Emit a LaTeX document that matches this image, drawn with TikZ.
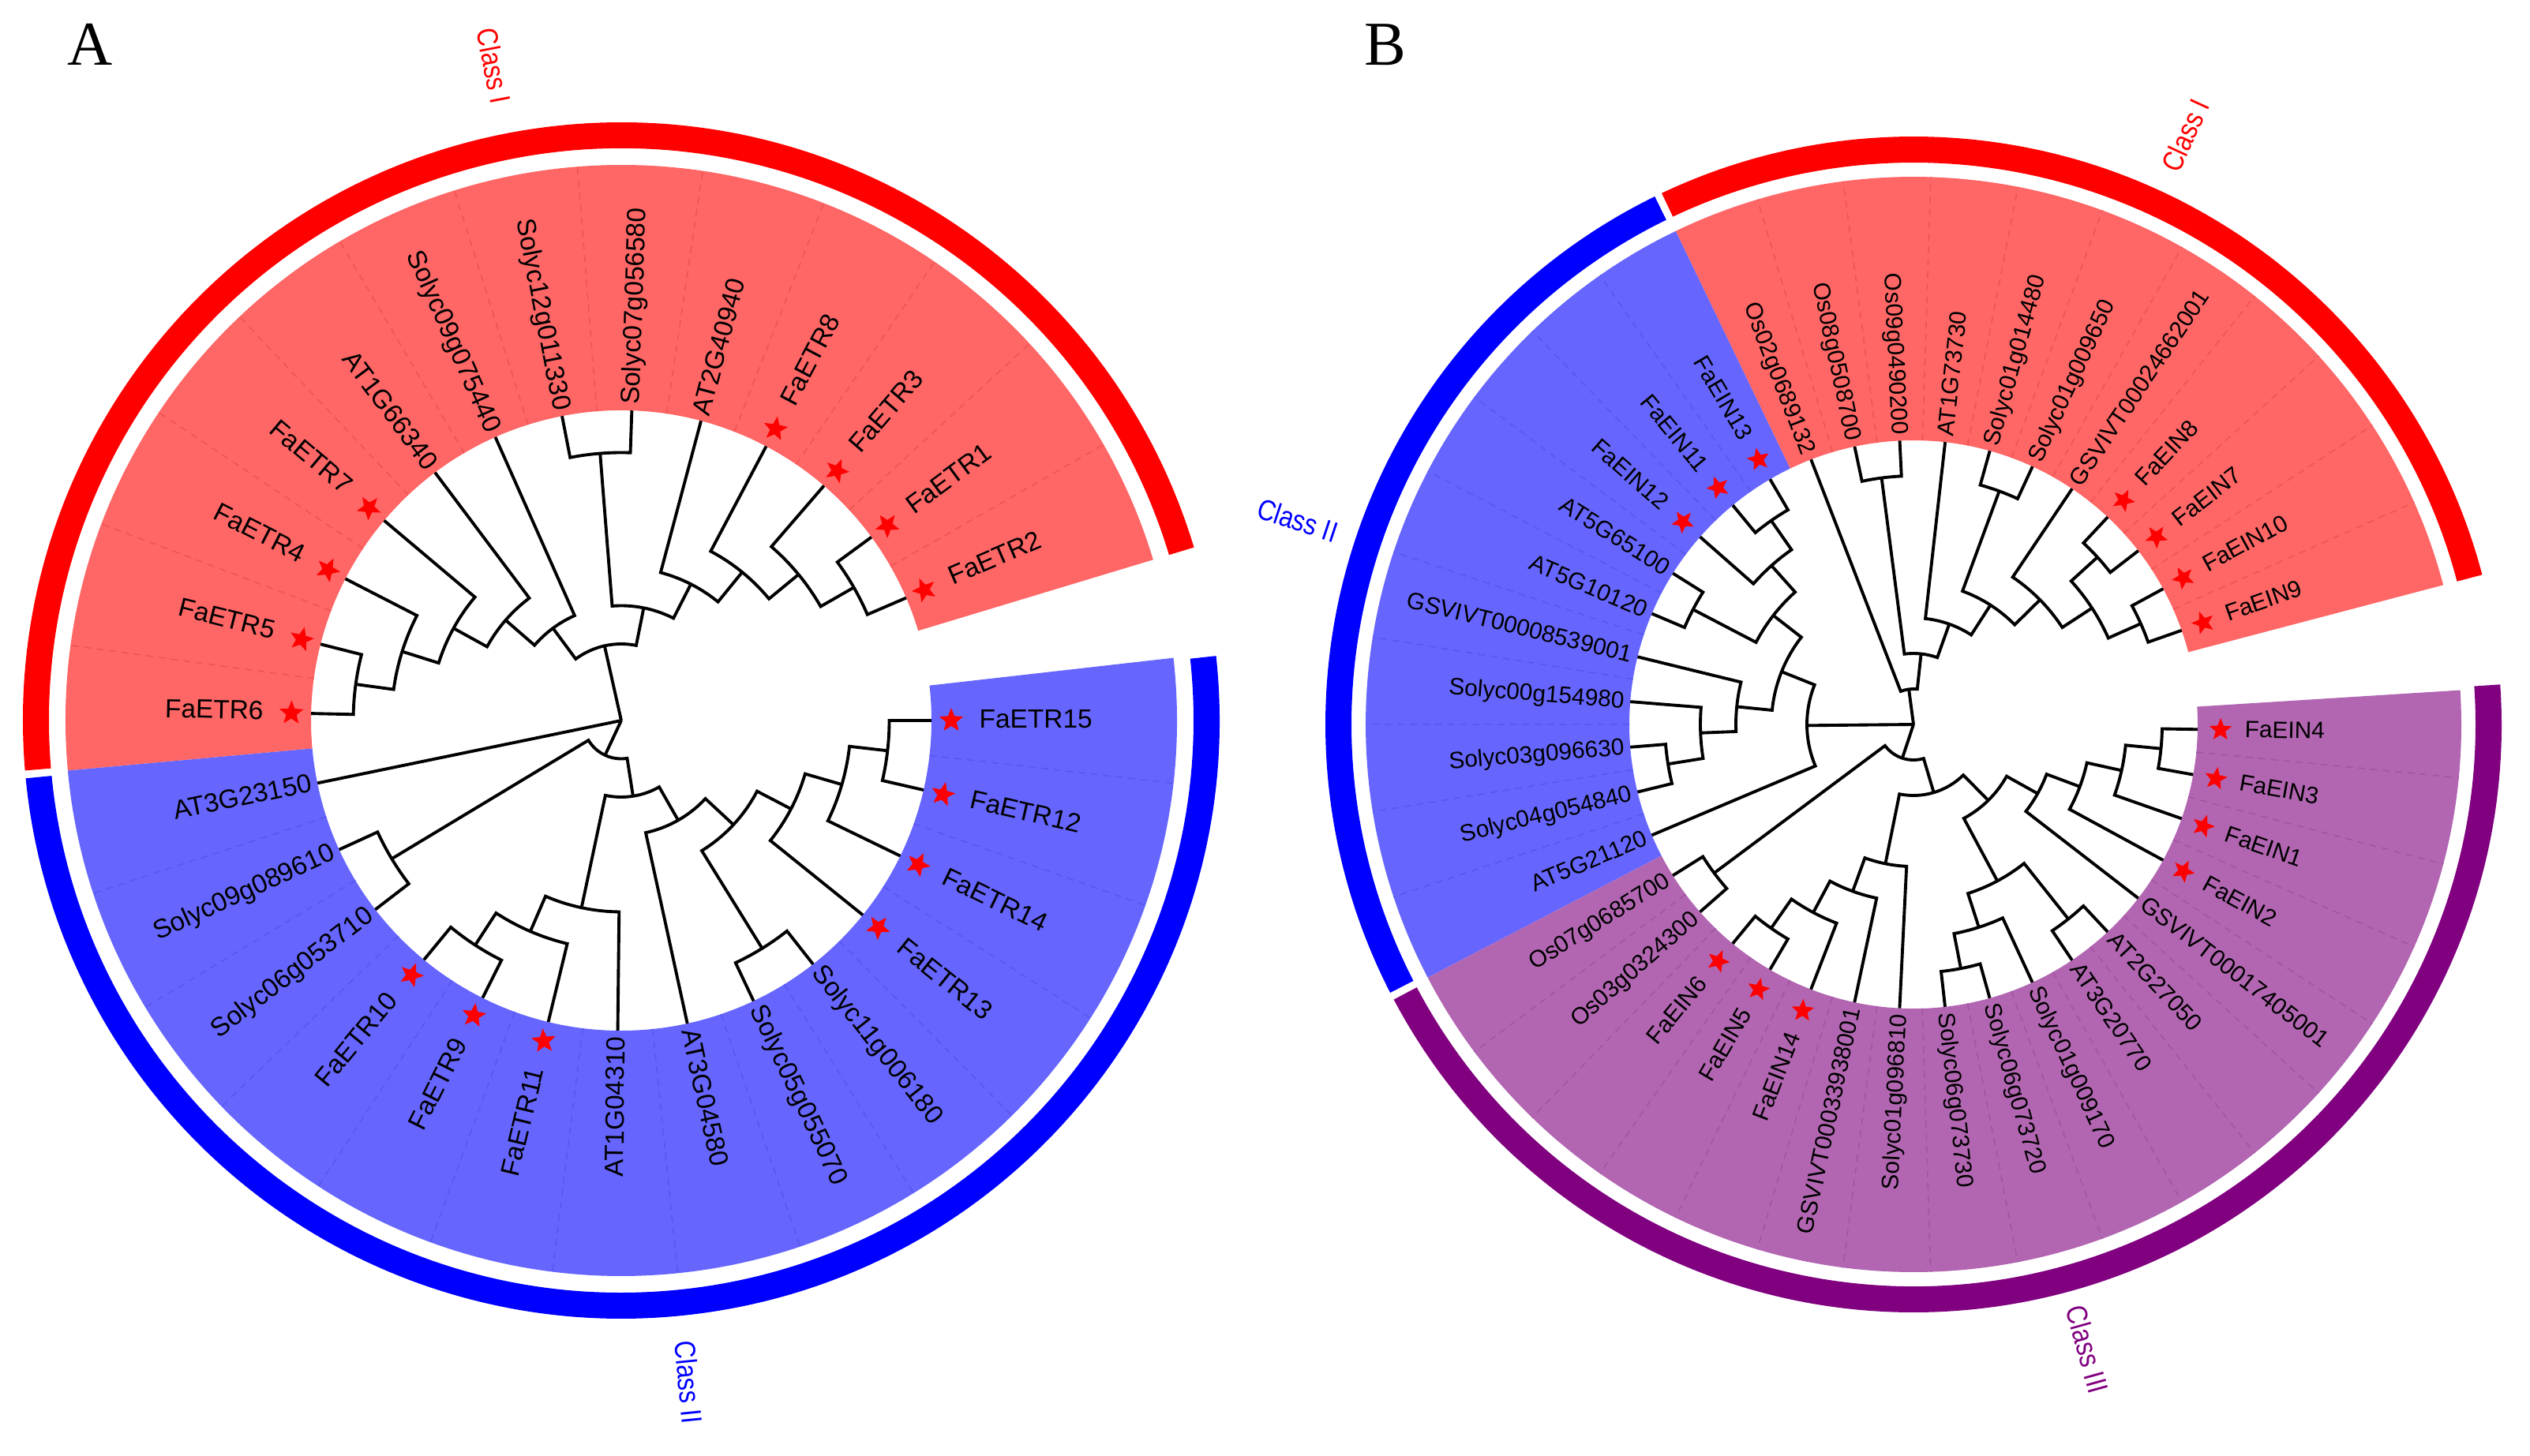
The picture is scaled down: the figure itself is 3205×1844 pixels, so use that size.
\documentclass[tikz,border=0pt]{standalone}
\usepackage{fontspec}
\setmainfont{Liberation Sans}
\newfontfamily\panelfont{Liberation Serif}
\usetikzlibrary{shapes.geometric}
\definecolor{bandred}{RGB}{255,102,102}
\definecolor{bandblue}{RGB}{102,102,255}
\definecolor{bandpurple}{RGB}{178,102,178}
\definecolor{ringred}{RGB}{255,0,0}
\definecolor{ringblue}{RGB}{0,0,255}
\definecolor{ringpurple}{RGB}{128,0,128}
\definecolor{sepred}{RGB}{240,84,84}
\definecolor{sepblue}{RGB}{88,88,240}
\definecolor{seppurple}{RGB}{162,84,162}
\tikzset{
  branch/.style={line width=1.1pt, black, line join=miter},
  lab/.style={inner sep=0pt, text height=0.72em, text depth=0.2em, font=\labfont},
  starsym/.style={star, star points=5, star point ratio=2.3, fill=red, draw=none, inner sep=0pt, minimum size=\starsize},
  sepline/.style={line width=0.45pt, dash pattern=on 2.5pt off 2pt},
  cls/.style={inner sep=0pt, font=\fontsize{10.5}{12}\selectfont},
}
% node of the tree: child1 index, child1 level, child2 index, child2 level, node level
\newcommand\brnode[5]{%
  \pgfmathsetmacro\myangA{\azero-\sstep*(#1)}%
  \pgfmathsetmacro\myangB{\azero-\sstep*(#3)}%
  \pgfmathsetmacro\myrA{(#2)>7.5 ? \rtip : (#2)*\lstep}%
  \pgfmathsetmacro\myrB{(#4)>7.5 ? \rtip : (#4)*\lstep}%
  \pgfmathsetmacro\myrN{(#5)*\lstep}%
  \draw[branch] (\myangA:\myrA) -- (\myangA:\myrN) arc[start angle=\myangA, end angle=\myangB, radius=\myrN*0.01cm] -- (\myangB:\myrB);%
}
\newcommand\brroot[2]{%
  \pgfmathsetmacro\myangA{\azero-\sstep*(#1)}%
  \pgfmathsetmacro\myrA{(#2)>7.5 ? \rtip : (#2)*\lstep}%
  \draw[branch] (0,0) -- (\myangA:\myrA);%
}
\newcommand\band[5]{%
  \fill[#5] (#1:#3) arc[start angle=#1, end angle=#2, radius=#3*0.01cm] -- (#2:#4) arc[start angle=#2, end angle=#1, radius=#4*0.01cm] -- cycle;%
}
% leaf: index, name, text, star
\newcommand\leaf[4]{%
  \pgfmathsetmacro\myang{\azero-\sstep*(#1)}%
  \pgfmathsetmacro\myangn{mod(\myang+720,360)}%
  \pgfmathtruncatemacro\myflip{and(\myangn>90,\myangn<270)}%
  \pgfmathsetmacro\myrot{\myflip==1 ? \myangn-180 : \myangn}%
  \pgfmathsetmacro\myrl{#4==1 ? \rlabs : \rlab}%
  \ifnum\myflip=1
    \node[lab,anchor=east,rotate=\myrot] (#2) at (\myang:\myrl) {#3};%
  \else
    \node[lab,anchor=west,rotate=\myrot] (#2) at (\myang:\myrl) {#3};%
  \fi
  \ifnum#4=1 \node[starsym,rotate=\myrot] (#2s) at (\myang:\rstar) {};\fi
}
\begin{document}
\begin{tikzpicture}[x=0.01cm,y=0.01cm]
\useasboundingbox (0,0) rectangle (3205,1844);
\node[font=\panelfont\fontsize{22.5}{24}\selectfont, inner sep=0pt] (pA) at (114,1788) {A};
\node[font=\panelfont\fontsize{22.5}{24}\selectfont, inner sep=0pt] (pB) at (1755,1787) {B};
% ================= Tree A =================
\begin{scope}[shift={(787,931)}]
  \def\azero{0}\def\sstep{12.95}\def\rtip{393}\def\lstep{48.5}
  \def\rstar{418}\def\rlab{400}\def\rlabs{453}
  \def\labfont{\fontsize{9.5}{11}\selectfont}\def\starsize{0.32cm}
  \band{-343.175}{-174.825}{393}{704}{bandred}
  \band{-174.825}{6.475}{393}{704}{bandblue}
  \foreach \i in {0,...,12} \draw[sepline,sepblue] ({\azero-\sstep*(\i+0.5)}:393) -- ({\azero-\sstep*(\i+0.5)}:704);
  \foreach \i in {14,...,25} \draw[sepline,sepred] ({\azero-\sstep*(\i+0.5)}:393) -- ({\azero-\sstep*(\i+0.5)}:704);
  \band{-343.175}{-175.2}{725}{758}{ringred}
  \band{-174.45}{6.2}{725}{758}{ringblue}
  \node[cls, text=ringred, rotate=-79] (cAI) at (101:845) {\scalebox{0.85}[1]{Class I}};
  \node[cls, text=ringblue, rotate=-84.175] (cAII) at (-84.175:843) {\scalebox{0.85}[1]{Class II}};
  % tree
  \brnode{0}{8}{1}{8}{7}
  \brnode{0.5}{7}{2}{8}{6}
  \brnode{1.25}{6}{3}{8}{5}
  \brnode{4}{8}{5}{8}{7}
  \brnode{2.125}{5}{4.5}{7}{4}
  \brnode{3.3125}{4}{6}{8}{3}
  \brnode{9}{8}{10}{8}{7}
  \brnode{8}{8}{9.5}{7}{6}
  \brnode{7}{8}{8.75}{6}{5}
  \brnode{4.65625}{3}{7.875}{5}{2}
  \brnode{11}{8}{12}{8}{7}
  \brnode{6.265625}{2}{11.5}{7}{1}
  \brnode{14}{8}{15}{8}{7}
  \brnode{14.5}{7}{16}{8}{6}
  \brnode{15.25}{6}{17}{8}{5}
  \brnode{16.125}{5}{18}{8}{4}
  \brnode{17.0625}{4}{19}{8}{3}
  \brnode{25}{8}{26}{8}{7}
  \brnode{24}{8}{25.5}{7}{6}
  \brnode{23}{8}{24.75}{6}{5}
  \brnode{22}{8}{23.875}{5}{4}
  \brnode{20}{8}{21}{8}{7}
  \brnode{20.5}{7}{22.9375}{4}{3}
  \brnode{18.03125}{3}{21.71875}{3}{2}
  \brroot{8.8828125}{1}
  \brroot{13}{8}
  \brroot{19.875}{2}
  % leaves
  \leaf{0}{a0}{FaETR15}{1}
  \leaf{1}{a1}{FaETR12}{1}
  \leaf{2}{a2}{FaETR14}{1}
  \leaf{3}{a3}{FaETR13}{1}
  \leaf{4}{a4}{Solyc11g006180}{0}
  \leaf{5}{a5}{Solyc05g055070}{0}
  \leaf{6}{a6}{AT3G04580}{0}
  \leaf{7}{a7}{AT1G04310}{0}
  \leaf{8}{a8}{FaETR11}{1}
  \leaf{9}{a9}{FaETR9}{1}
  \leaf{10}{a10}{FaETR10}{1}
  \leaf{11}{a11}{Solyc06g053710}{0}
  \leaf{12}{a12}{Solyc09g089610}{0}
  \leaf{13}{a13}{AT3G23150}{0}
  \leaf{14}{a14}{FaETR6}{1}
  \leaf{15}{a15}{FaETR5}{1}
  \leaf{16}{a16}{FaETR4}{1}
  \leaf{17}{a17}{FaETR7}{1}
  \leaf{18}{a18}{AT1G66340}{0}
  \leaf{19}{a19}{Solyc09g075440}{0}
  \leaf{20}{a20}{Solyc12g011330}{0}
  \leaf{21}{a21}{Solyc07g056580}{0}
  \leaf{22}{a22}{AT2G40940}{0}
  \leaf{23}{a23}{FaETR8}{1}
  \leaf{24}{a24}{FaETR3}{1}
  \leaf{25}{a25}{FaETR1}{1}
  \leaf{26}{a26}{FaETR2}{1}
\end{scope}
% ================= Tree B =================
\begin{scope}[shift={(2424,926)}]
  \def\azero{-1}\def\sstep{9.18}\def\rtip{360}\def\lstep{45}
  \def\rstar{389}\def\rlab{367}\def\rlabs{419}
  \def\labfont{\fontsize{8.5}{10}\selectfont}\def\starsize{0.30cm}
  \band{-345.25}{-244.27}{360}{694}{bandred}
  \band{-244.27}{-152.47}{360}{694}{bandblue}
  \band{-152.47}{3.59}{360}{694}{bandpurple}
  \foreach \i in {0,...,15} \draw[sepline,seppurple] ({\azero-\sstep*(\i+0.5)}:360) -- ({\azero-\sstep*(\i+0.5)}:694);
  \foreach \i in {17,...,25} \draw[sepline,sepblue] ({\azero-\sstep*(\i+0.5)}:360) -- ({\azero-\sstep*(\i+0.5)}:694);
  \foreach \i in {27,...,36} \draw[sepline,sepred] ({\azero-\sstep*(\i+0.5)}:360) -- ({\azero-\sstep*(\i+0.5)}:694);
  \band{-345.25}{-244.65}{712}{745}{ringred}
  \band{-243.9}{-152.85}{712}{745}{ringblue}
  \band{-152.1}{3.9}{712}{745}{ringpurple}
  \node[cls, text=ringred, rotate=65.24] (cBI) at (65.24:822) {\scalebox{0.85}[1]{Class I}};
  \node[cls, text=ringblue, rotate=-18.37] (cBII) at (161.63:822) {\scalebox{0.85}[1]{Class II}};
  \node[cls, text=ringpurple, rotate=-74.44] (cBIII) at (-74.44:822) {\scalebox{0.85}[1]{Class III}};
  % tree
  \brnode{0}{8}{1}{8}{7}
  \brnode{0.5}{7}{2}{8}{6}
  \brnode{1.25}{6}{3}{8}{5}
  \brnode{2.125}{5}{4}{8}{4}
  \brnode{5}{8}{6}{8}{7}
  \brnode{8}{8}{9}{8}{7}
  \brnode{7}{8}{8.5}{7}{6}
  \brnode{5.5}{7}{7.75}{6}{5}
  \brnode{3.0625}{4}{6.625}{5}{3}
  \brnode{13}{8}{14}{8}{7}
  \brnode{12}{8}{13.5}{7}{6}
  \brnode{11}{8}{12.75}{6}{5}
  \brnode{10}{8}{11.875}{5}{4}
  \brnode{4.84375}{3}{10.9375}{4}{2}
  \brnode{15}{8}{16}{8}{7}
  \brnode{7.890625}{2}{15.5}{7}{1}
  \brnode{18}{8}{19}{8}{7}
  \brnode{18.5}{7}{20}{8}{6}
  \brnode{19.25}{6}{21}{8}{5}
  \brnode{22}{8}{23}{8}{7}
  \brnode{25}{8}{26}{8}{7}
  \brnode{24}{8}{25.5}{7}{6}
  \brnode{22.5}{7}{24.75}{6}{5}
  \brnode{20.125}{5}{23.625}{5}{4}
  \brnode{17}{8}{21.875}{4}{3}
  \brnode{28}{8}{29}{8}{7}
  \brnode{31}{8}{32}{8}{7}
  \brnode{34}{8}{35}{8}{7}
  \brnode{36}{8}{37}{8}{7}
  \brnode{34.5}{7}{36.5}{7}{6}
  \brnode{33}{8}{35.5}{6}{5}
  \brnode{31.5}{7}{34.25}{5}{4}
  \brnode{30}{8}{32.875}{4}{3}
  \brnode{28.5}{7}{31.4375}{3}{2}
  \brnode{27}{8}{29.96875}{2}{1}
  \brroot{11.6953125}{1}
  \brroot{19.4375}{3}
  \brroot{28.484375}{1}
  % leaves
  \leaf{0}{b0}{FaEIN4}{1}
  \leaf{1}{b1}{FaEIN3}{1}
  \leaf{2}{b2}{FaEIN1}{1}
  \leaf{3}{b3}{FaEIN2}{1}
  \leaf{4}{b4}{GSVIVT00017405001}{0}
  \leaf{5}{b5}{AT2G27050}{0}
  \leaf{6}{b6}{AT3G20770}{0}
  \leaf{7}{b7}{Solyc01g009170}{0}
  \leaf{8}{b8}{Solyc06g073720}{0}
  \leaf{9}{b9}{Solyc06g073730}{0}
  \leaf{10}{b10}{Solyc01g096810}{0}
  \leaf{11}{b11}{GSVIVT00033938001}{0}
  \leaf{12}{b12}{FaEIN14}{1}
  \leaf{13}{b13}{FaEIN5}{1}
  \leaf{14}{b14}{FaEIN6}{1}
  \leaf{15}{b15}{Os03g0324300}{0}
  \leaf{16}{b16}{Os07g0685700}{0}
  \leaf{17}{b17}{AT5G21120}{0}
  \leaf{18}{b18}{Solyc04g054840}{0}
  \leaf{19}{b19}{Solyc03g096630}{0}
  \leaf{20}{b20}{Solyc00g154980}{0}
  \leaf{21}{b21}{GSVIVT00008539001}{0}
  \leaf{22}{b22}{AT5G10120}{0}
  \leaf{23}{b23}{AT5G65100}{0}
  \leaf{24}{b24}{FaEIN12}{1}
  \leaf{25}{b25}{FaEIN11}{1}
  \leaf{26}{b26}{FaEIN13}{1}
  \leaf{27}{b27}{Os02g0689132}{0}
  \leaf{28}{b28}{Os08g0508700}{0}
  \leaf{29}{b29}{Os09g0490200}{0}
  \leaf{30}{b30}{AT1G73730}{0}
  \leaf{31}{b31}{Solyc01g014480}{0}
  \leaf{32}{b32}{Solyc01g009650}{0}
  \leaf{33}{b33}{GSVIVT00024662001}{0}
  \leaf{34}{b34}{FaEIN8}{1}
  \leaf{35}{b35}{FaEIN7}{1}
  \leaf{36}{b36}{FaEIN10}{1}
  \leaf{37}{b37}{FaEIN9}{1}
\end{scope}
\end{tikzpicture}
\end{document}
